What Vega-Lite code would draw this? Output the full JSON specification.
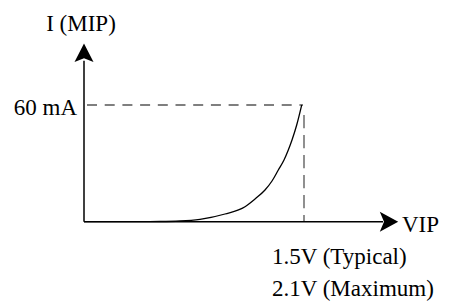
{
  "$schema": "https://vega.github.io/schema/vega-lite/v6.json",
  "width": 451,
  "height": 301,
  "padding": 0,
  "autosize": {"type": "none"},
  "background": "white",
  "config": {"view": {"stroke": null}},
  "datasets": {
    "curve": [
      {"v": 0, "i": 0},
      {"v": 36, "i": 0},
      {"v": 76, "i": 0.2},
      {"v": 96, "i": 0.7},
      {"v": 116, "i": 2.4},
      {"v": 141, "i": 7.7},
      {"v": 161, "i": 15},
      {"v": 171, "i": 22.7},
      {"v": 181, "i": 31.7},
      {"v": 188, "i": 40.7},
      {"v": 194.3, "i": 51.7},
      {"v": 200, "i": 61.7},
      {"v": 204.3, "i": 71.7},
      {"v": 208, "i": 81.7},
      {"v": 212.7, "i": 96.7},
      {"v": 217.7, "i": 116.7}
    ],
    "axes": [
      {"x": 0, "y": 0, "x2": 0, "y2": 161},
      {"x": 0, "y": 0, "x2": 299, "y2": 0}
    ],
    "hdash": [{"x": 3, "y": 116.7, "x2": 219, "y2": 116.7}],
    "vdash": [{"x": 220, "y": 106.7, "x2": 220, "y2": 0}],
    "uparrow": [{"x": 0, "y": 169}],
    "rightarrow": [{"x": 305, "y": 0}],
    "centerlabels": [
      {"x": -3, "y": 191, "text": "I (MIP)"}
    ],
    "rightlabels": [
      {"x": -7, "y": 106.7, "text": "60 mA"}
    ],
    "leftlabels": [
      {"x": 318, "y": -10, "text": "VIP"},
      {"x": 188, "y": -42.3, "text": "1.5V (Typical)"},
      {"x": 188, "y": -74.3, "text": "2.1V (Maximum)"}
    ]
  },
  "encoding": {
    "x": {"type": "quantitative", "axis": null, "scale": {"domain": [-84, 367], "nice": false, "zero": false}},
    "y": {"type": "quantitative", "axis": null, "scale": {"domain": [-79.3, 221.7], "nice": false, "zero": false}}
  },
  "layer": [
    {
      "data": {"name": "hdash"},
      "mark": {"type": "rule", "stroke": "#555555", "strokeWidth": 1.3, "strokeDash": [10, 7.7]},
      "encoding": {"x": {"field": "x"}, "y": {"field": "y"}, "x2": {"field": "x2"}, "y2": {"field": "y2"}}
    },
    {
      "data": {"name": "vdash"},
      "mark": {"type": "rule", "stroke": "#555555", "strokeWidth": 1.3, "strokeDash": [13.3, 6.7]},
      "encoding": {"x": {"field": "x"}, "y": {"field": "y"}, "x2": {"field": "x2"}, "y2": {"field": "y2"}}
    },
    {
      "data": {"name": "axes"},
      "mark": {"type": "rule", "stroke": "black", "strokeWidth": 1.5},
      "encoding": {"x": {"field": "x"}, "y": {"field": "y"}, "x2": {"field": "x2"}, "y2": {"field": "y2"}}
    },
    {
      "data": {"name": "curve"},
      "mark": {"type": "line", "stroke": "black", "strokeWidth": 1.3, "interpolate": "monotone"},
      "encoding": {"x": {"field": "v"}, "y": {"field": "i"}}
    },
    {
      "data": {"name": "uparrow"},
      "mark": {"type": "point", "filled": true, "color": "black", "opacity": 1, "strokeWidth": 0, "size": 400, "shape": "M0,-0.92L0.95,0.92L0,0.55L-0.95,0.92Z"},
      "encoding": {"x": {"field": "x"}, "y": {"field": "y"}}
    },
    {
      "data": {"name": "rightarrow"},
      "mark": {"type": "point", "filled": true, "color": "black", "opacity": 1, "strokeWidth": 0, "size": 400, "shape": "M0.92,0L-0.92,1L-0.5,0L-0.92,-1Z"},
      "encoding": {"x": {"field": "x"}, "y": {"field": "y"}}
    },
    {
      "data": {"name": "centerlabels"},
      "mark": {"type": "text", "font": "Liberation Serif", "fontSize": 23, "color": "black", "baseline": "alphabetic", "align": "center"},
      "encoding": {"x": {"field": "x"}, "y": {"field": "y"}, "text": {"field": "text"}}
    },
    {
      "data": {"name": "rightlabels"},
      "mark": {"type": "text", "font": "Liberation Serif", "fontSize": 23, "color": "black", "baseline": "alphabetic", "align": "right"},
      "encoding": {"x": {"field": "x"}, "y": {"field": "y"}, "text": {"field": "text"}}
    },
    {
      "data": {"name": "leftlabels"},
      "mark": {"type": "text", "font": "Liberation Serif", "fontSize": 23, "color": "black", "baseline": "alphabetic", "align": "left"},
      "encoding": {"x": {"field": "x"}, "y": {"field": "y"}, "text": {"field": "text"}}
    }
  ]
}
